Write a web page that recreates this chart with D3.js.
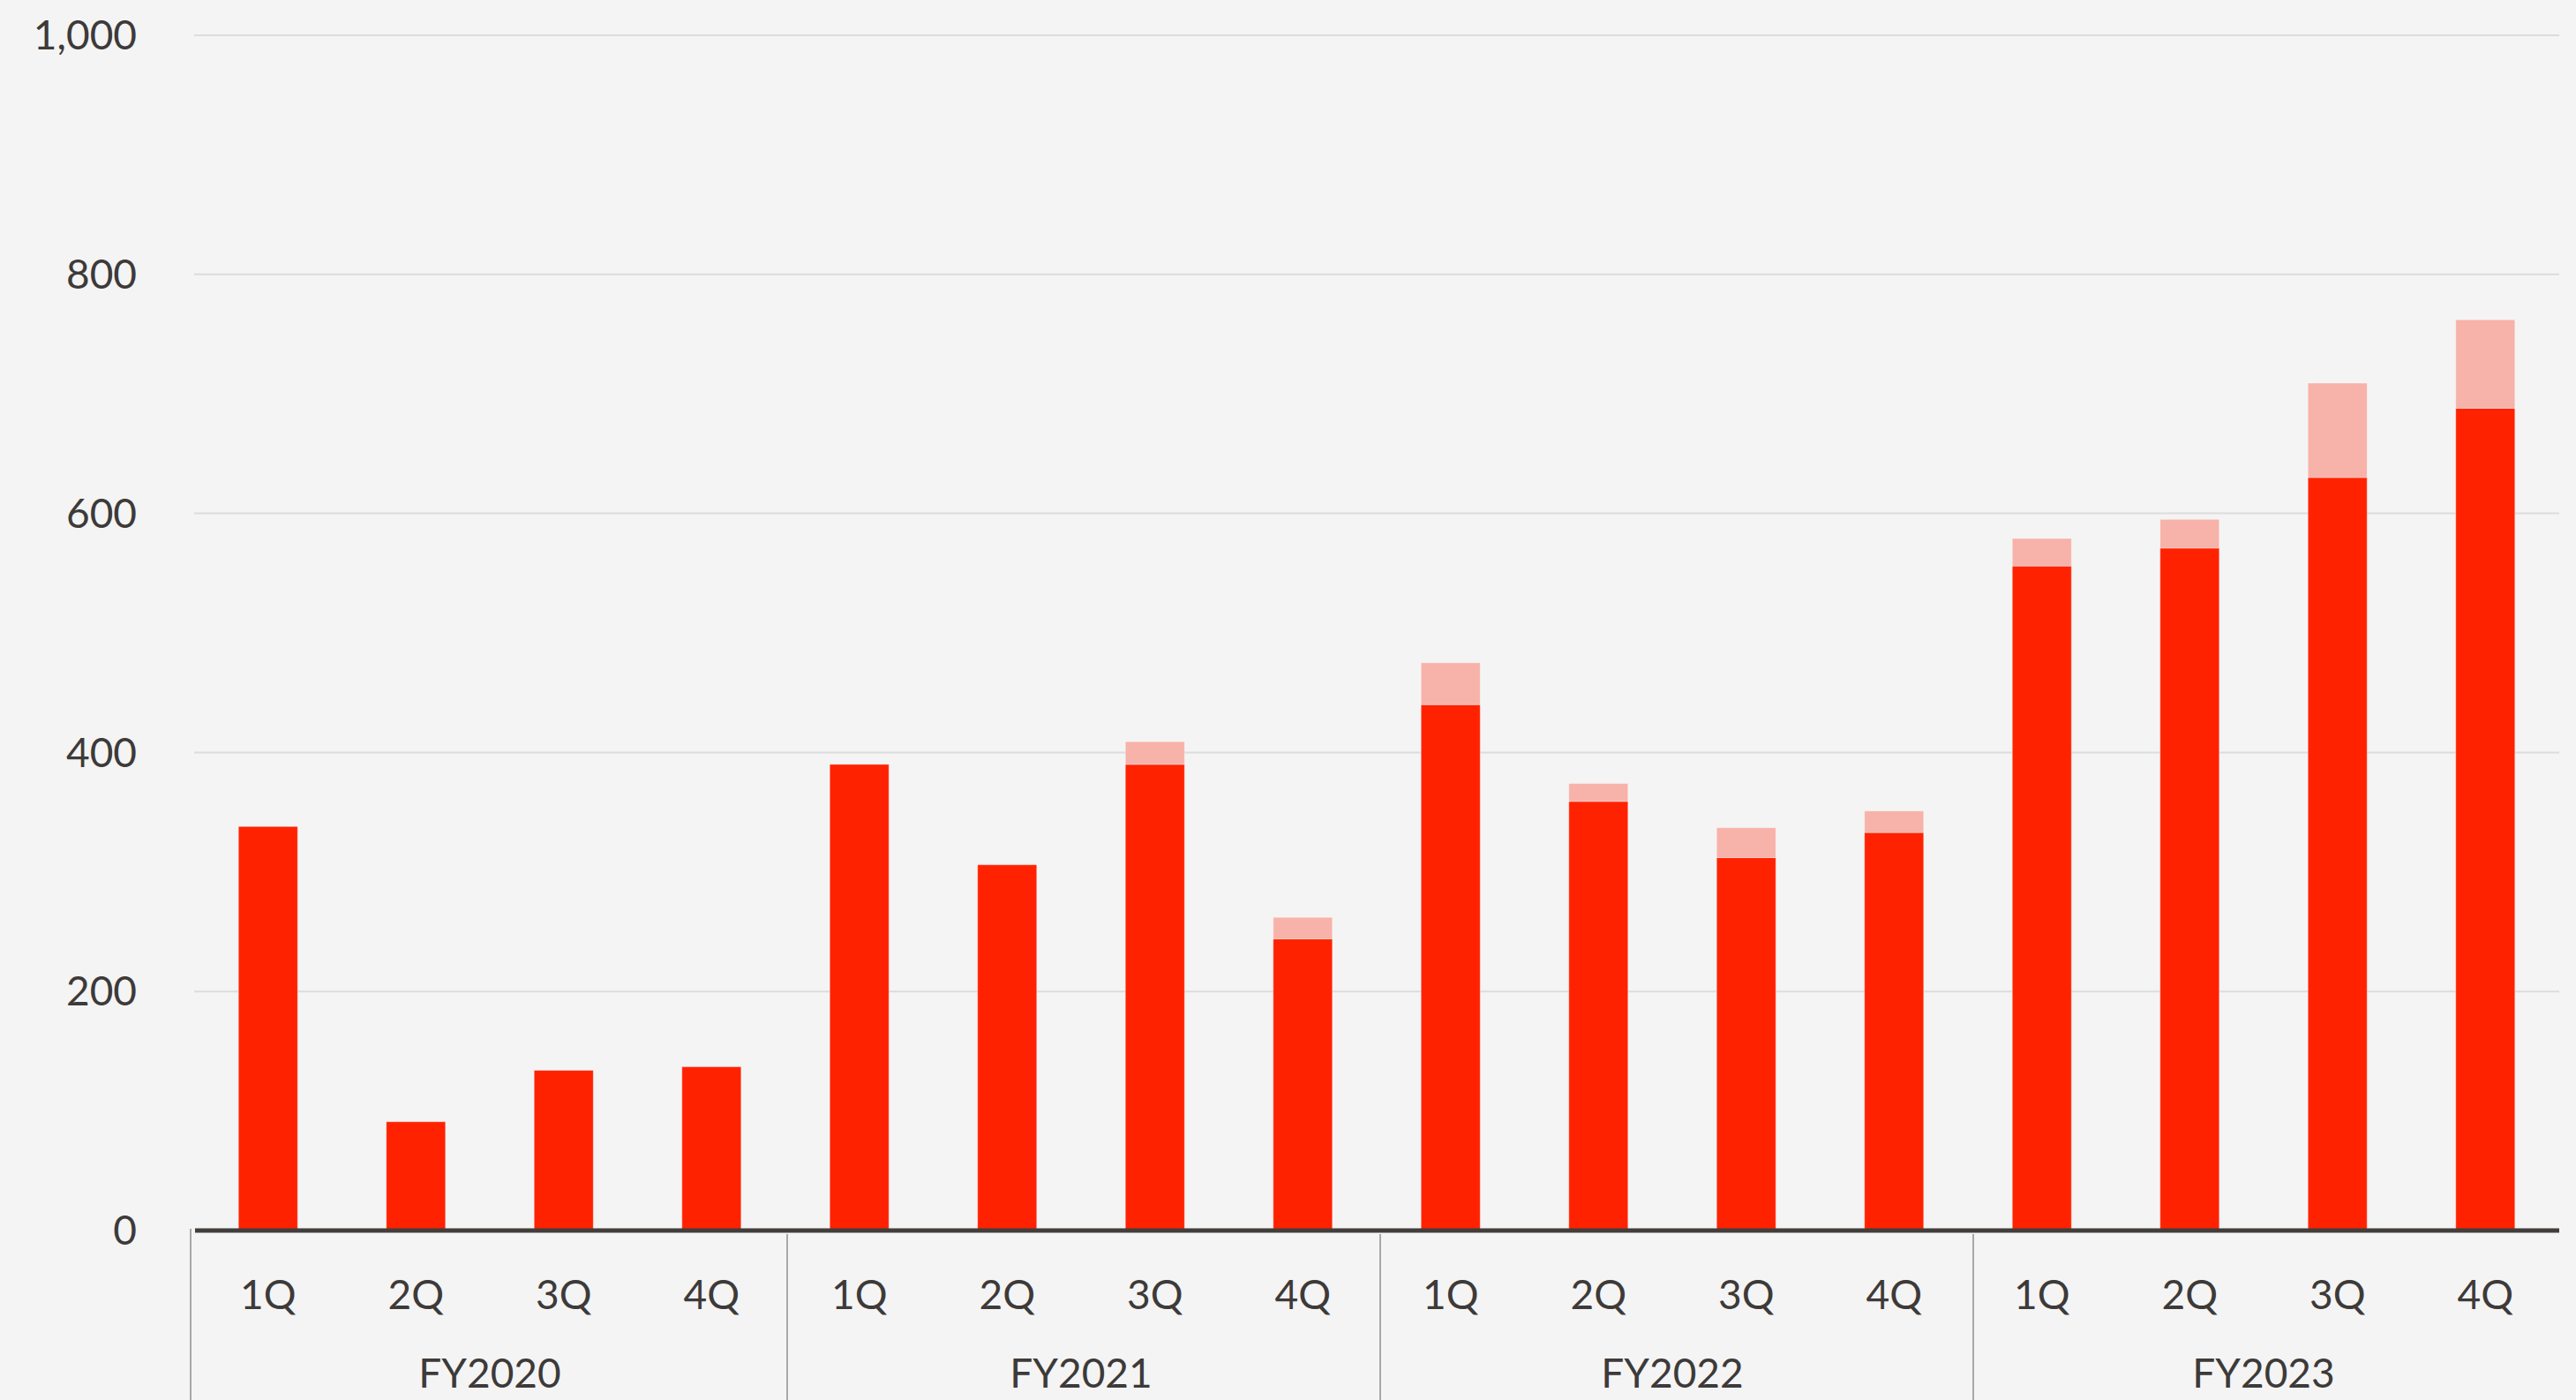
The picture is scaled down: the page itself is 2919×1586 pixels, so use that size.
<!DOCTYPE html>
<html>
<head>
<meta charset="utf-8">
<script src="https://cdn.jsdelivr.net/npm/d3@7"></script>
<style>
  html, body { margin: 0; padding: 0; background: #f4f4f4; }
  svg { display: block; }
  text { font-family: Lato, "Noto Sans", sans-serif; fill: #3d3a39; }
</style>
</head>
<body>
<svg id="chart" width="2919" height="1586"></svg>
<script>
const fiscalYears = ["FY2020", "FY2021", "FY2022", "FY2023"];
const quarters = ["1Q", "2Q", "3Q", "4Q"];
const mainValues = [338, 91, 134, 137, 390, 306, 390, 244, 440, 359, 312, 333, 556, 571, 630, 688];
const extraValues = [0, 0, 0, 0, 0, 0, 19, 18, 35, 15, 25, 18, 23, 24, 79, 74];
const yTicks = [0, 200, 400, 600, 800, 1000];

const W = 2919, H = 1586;
const margin = { left: 220, right: 19, top: 40, bottom: 192 };
const svg = d3.select("#chart");
svg.append("rect").attr("width", W).attr("height", H).attr("fill", "#f4f4f4");

const keys = [];
fiscalYears.forEach(fy => quarters.forEach(q => keys.push(fy + "|" + q)));
const rows = keys.map((k, i) => ({ key: k, fy: k.split("|")[0], q: k.split("|")[1], main: mainValues[i], extra: extraValues[i] }));

const x = d3.scaleBand().domain(keys).range([margin.left, W - margin.right]).paddingInner(0.6).paddingOuter(0.3);
const y = d3.scaleLinear().domain([0, 1000]).range([H - margin.bottom, margin.top]);

// y tick labels
const yAxis = d3.axisLeft(y).tickValues(yTicks).tickFormat(d3.format(",")).tickSize(0).tickPadding(65);
const gy = svg.append("g").attr("transform", `translate(${margin.left},0)`).call(yAxis);
gy.select(".domain").remove();
gy.selectAll("text").attr("font-size", 46).attr("dy", "0.34em").style("fill", "#3d3a39")
  .style("font-family", "Lato, 'Noto Sans', sans-serif");

// gridlines
svg.append("g").selectAll("line").data(yTicks.filter(d => d > 0)).join("line")
  .attr("x1", margin.left).attr("x2", W - margin.right)
  .attr("y1", d => y(d)).attr("y2", d => y(d))
  .attr("stroke", "#dcdcdc").attr("stroke-width", 2);

// stacked bars
const stack = d3.stack().keys(["main", "extra"]);
const series = stack(rows);
const colors = { main: "#ff2200", extra: "#f7b2a9" };
svg.append("g").selectAll("g").data(series).join("g")
  .attr("fill", d => colors[d.key])
  .selectAll("rect").data(d => d.filter(s => s[1] > s[0])).join("rect")
  .attr("x", d => x(d.data.key))
  .attr("width", x.bandwidth())
  .attr("y", d => y(d[1]))
  .attr("height", d => y(d[0]) - y(d[1]))
  .attr("stroke", "#ffffff").attr("stroke-opacity", 0.35).attr("stroke-width", 1);

// baseline axis
svg.append("line")
  .attr("x1", margin.left + 1).attr("x2", W - margin.right)
  .attr("y1", y(0)).attr("y2", y(0))
  .attr("stroke", "#423e3c").attr("stroke-width", 5);

// quarter labels
const gx = svg.append("g").attr("transform", `translate(0,${y(0)})`)
  .call(d3.axisBottom(x).tickFormat(k => k.split("|")[1]).tickSize(0).tickPadding(0));
gx.select(".domain").remove();
gx.selectAll("text").attr("font-size", 46).attr("dy", null).attr("y", 89)
  .style("fill", "#3d3a39").style("font-family", "Lato, 'Noto Sans', sans-serif");

// group separators and fiscal year labels
const step = x.step();
fiscalYears.forEach((fy, i) => {
  const x0 = x(fy + "|1Q") - (step - x.bandwidth()) / 2;
  const x1 = x(fy + "|4Q") + x.bandwidth() + (step - x.bandwidth()) / 2;
  const sx = i === 0 ? x0 - 4 : x0 + 2 * i;
  svg.append("line")
    .attr("x1", sx).attr("x2", sx)
    .attr("y1", i === 0 ? y(0) - 2 : y(0) + 4).attr("y2", H)
    .attr("stroke", "#a8a8a8").attr("stroke-width", 2);
  svg.append("text")
    .attr("x", (x0 + x1) / 2).attr("y", 1572)
    .attr("text-anchor", "middle").attr("font-size", 46)
    .text(fy);
});
</script>
</body>
</html>
